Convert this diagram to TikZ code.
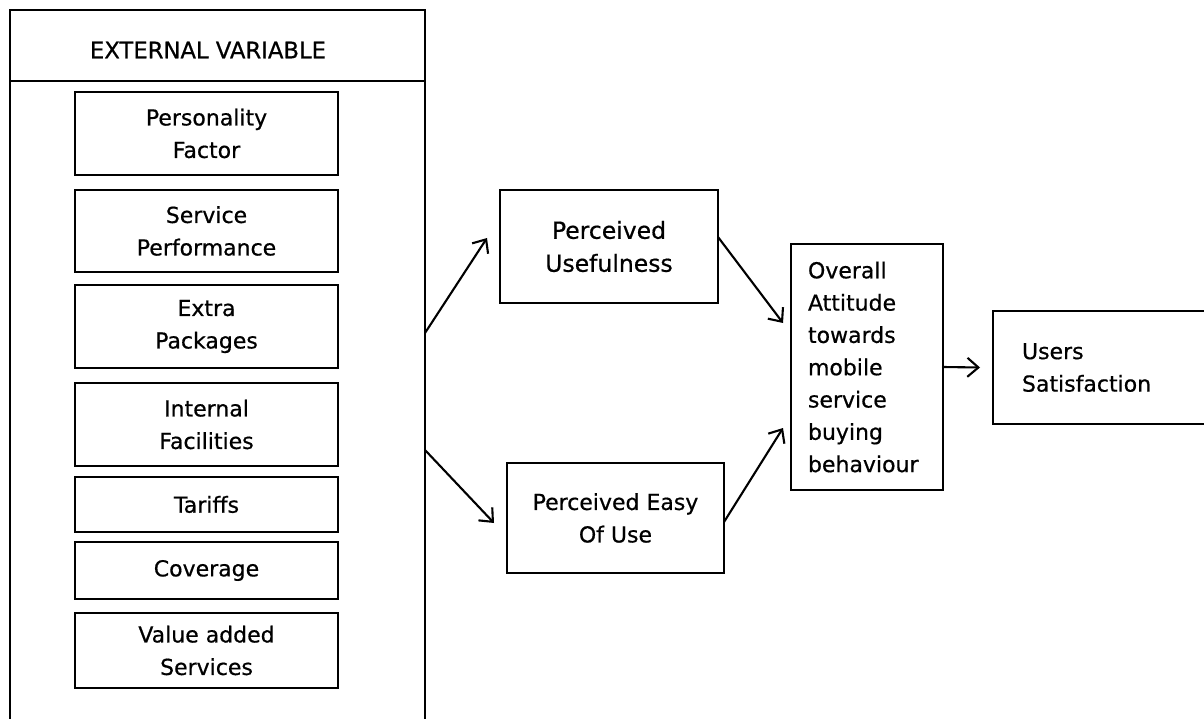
\documentclass[tikz,border=0pt]{standalone}
\usepackage{fontspec}
\setmainfont{DejaVu Sans}[FakeBold=0.6]
\usetikzlibrary{arrows.meta,calc}
\begin{document}
\begin{tikzpicture}[x=1pt,y=-1pt,
  boxline/.style={draw=black, line width=2.1pt, outer sep=0pt, inner sep=0pt},
  ibox/.style={boxline, minimum width=263pt, align=center,
    font=\fontsize{22}{32.5}\selectfont},
  rbox/.style={boxline, align=center, font=\fontsize{22}{32.5}\selectfont},
  arr/.style={-{Straight Barb[length=11pt,width=19pt]}, line width=2.1pt, line cap=round}]
\useasboundingbox (0,0) rectangle (1204,719);
\clip (0,0) rectangle (1204,719);
\fill[white] (0,0) rectangle (1204,719);
% outer frame and header
\node[boxline, minimum width=415pt, minimum height=725pt] (outer) at (217.5,372.5) {};
\node[boxline, minimum width=415pt, minimum height=71pt] (hdr) at (217.5,45.5) {};
\node[font=\fontsize{22.7}{27}\selectfont, inner sep=0pt] (hdrtext) at (208,50) {EXTERNAL VARIABLE};
% inner boxes
\node[ibox, minimum height=83pt] (b1) at (206.5,133.5) {Personality\\Factor};
\node[ibox, minimum height=82pt] (b2) at (206.5,231) {Service\\Performance};
\node[ibox, minimum height=83pt] (b3) at (206.5,326.5) {Extra\\Packages};
\node[ibox, minimum height=83pt] (b4) at (206.5,424.5) {Internal\\Facilities};
\node[ibox, minimum height=55pt] (b5) at (206.5,504.5) {Tariffs};
\node[ibox, minimum height=57pt] (b6) at (206.5,570.5) {Coverage};
\node[ibox, minimum height=75pt] (b7) at (206.5,650.5) {Value added\\Services};
% right side boxes
\node[rbox, minimum width=218pt, minimum height=113pt,
  font=\fontsize{23.5}{33}\selectfont] (pu) at (609,246.5) {Perceived\\Usefulness};
\node[rbox, minimum width=217pt, minimum height=110pt] (peu) at (615.5,518) {Perceived Easy\\Of Use};
\node[boxline, align=left, text width=118pt, inner xsep=17pt, minimum height=246pt,
  font=\fontsize{22}{32.3}\selectfont] (ov) at (867,367)
  {Overall\\Attitude\\towards\\mobile\\service\\buying\\behaviour};
\node[boxline, align=left, text width=179pt, inner xsep=29pt, minimum height=113pt,
  font=\fontsize{22}{32.5}\selectfont] (us) at (1111.5,367.5) {Users\\Satisfaction};
% connectors
\draw[arr] ($(outer.north east)+(0,323)$) -- ($(pu.west)+(-13,-8.5)$);
\draw[arr] ($(outer.north east)+(0,440)$) -- ($(peu.west)+(-13,5)$);
\draw[arr] ($(pu.east)+(0,-9.5)$) -- ($(ov.west)+(-8,-44)$);
\draw[arr] ($(peu.east)+(0,4)$) -- ($(ov.west)+(-8,61)$);
\draw[arr] (ov.east) -- ($(us.west)+(-13,0)$);
\end{tikzpicture}
\end{document}
